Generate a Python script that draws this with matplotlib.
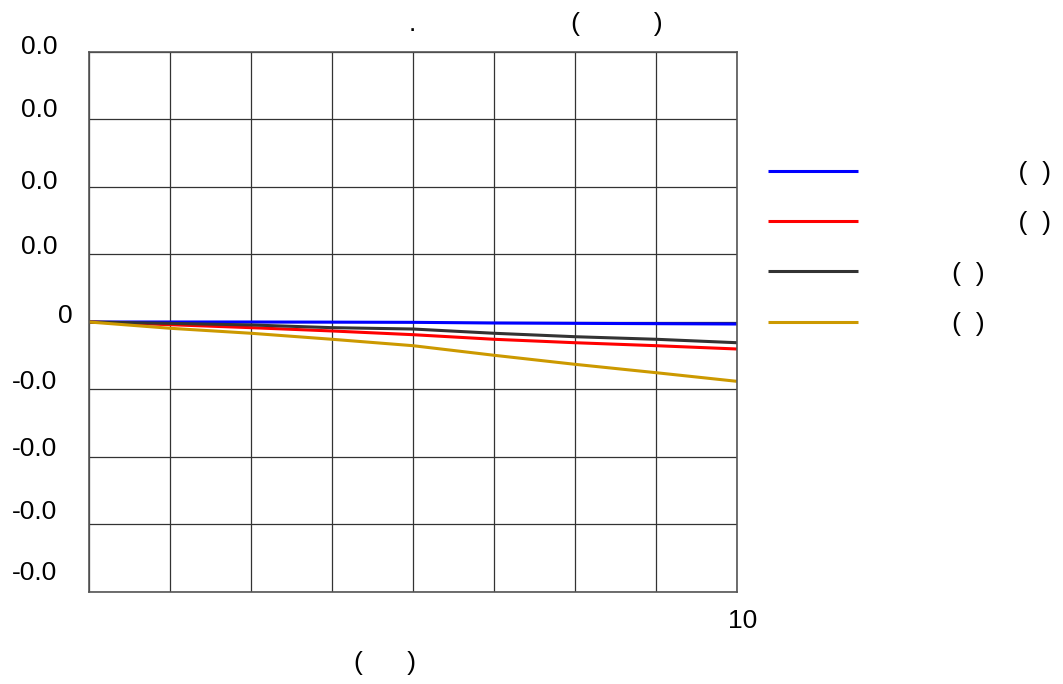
import numpy as np
import matplotlib
matplotlib.use('Agg')
import matplotlib.pyplot as plt
import matplotlib.transforms as mtransforms

plt.rcParams['font.family'] = ['Liberation Sans', 'DejaVu Sans']

# data (x in grid steps of 1.25 up to 10)
x = [0, 1.25, 2.5, 3.75, 5, 6.25, 7.5, 8.75, 10]
blue = [0, 0, 0, -0.00002, -0.00005, -0.00015, -0.0002, -0.00025, -0.0003]
red = [0, -0.0004, -0.00084, -0.00133, -0.00188, -0.00256, -0.00307, -0.00351, -0.004]
black = [0, -0.0002, -0.00044, -0.00084, -0.00104, -0.00167, -0.00218, -0.00256, -0.00307]
gold = [0, -0.00093, -0.00167, -0.00256, -0.00351, -0.00493, -0.00627, -0.00751, -0.00879]

# labels: glyphs missing in the source render as blanks
labels = ['                    (  )', '                    (  )',
          '           (  )', '           (  )']
yticks = [0.04, 0.03, 0.02, 0.01, 0, -0.01, -0.02, -0.03, -0.04]
ytick_labels = ['0.0', '0.0', '0.0', '0.0', '0', '-0.0', '-0.0', '-0.0', '-0.0']
xtick_labels = ['', '', '', '', '', '', '', '', '10']
title = '.                     (          )'
xlabel = '(      )'

fs = 19
fig = plt.figure(figsize=(10.63, 6.84), dpi=100)
ax = fig.add_axes([0.0837, 0.1345, 0.6096, 0.7895])

series = [(blue, '#0000ff'), (red, '#ff0000'), (black, '#333333'), (gold, '#cc9900')]
for (vals, col), lab in zip(series, labels):
    ax.plot(x, vals, color=col, lw=2.2, label=lab, solid_capstyle='butt')

ax.set_xlim(0, 10)
ax.set_ylim(-0.04, 0.04)
ax.set_xticks(x)
ax.set_xticklabels(xtick_labels, fontsize=fs)
ax.set_yticks(yticks)
ax.set_yticklabels(ytick_labels, fontsize=fs)
ax.tick_params(axis='y', length=0, pad=23)
ax.tick_params(axis='x', length=0, pad=12)
ax.grid(True, color='#333333', lw=0.9)
for s in ax.spines.values():
    s.set_color('#555555')
    s.set_linewidth(1.2)

# the source's y labels sit a bit above their grid lines
ylab_up = [7, 12, 7, 10, 8, 10, 10, 15, 22]
for t, lab, up in zip(ax.get_yticklabels(), ytick_labels, ylab_up):
    dx = 16 if lab == '0' else 0
    t.set_transform(t.get_transform() + mtransforms.ScaledTranslation(dx / 100, up / 100, fig.dpi_scale_trans))
for t in ax.get_xticklabels():
    t.set_transform(t.get_transform() + mtransforms.ScaledTranslation(6 / 100, 0, fig.dpi_scale_trans))

ax.set_xlabel(xlabel, fontsize=fs)
ax.xaxis.set_label_coords(0.457, -0.11)
fig.text(0.504, 0.965, title, fontsize=fs, ha='center', va='center')

fig.legend(loc='upper left', bbox_to_anchor=(0.7225, 0.765), frameon=False,
           fontsize=fs, handlelength=3.4, handletextpad=0.5, labelspacing=1.0,
           borderpad=0, borderaxespad=0)

fig.savefig('out.png', dpi=100)
